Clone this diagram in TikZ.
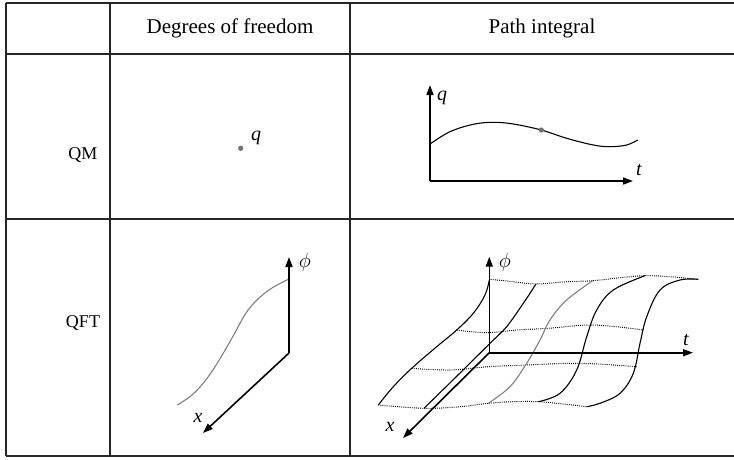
\documentclass[tikz,border=0pt]{standalone}
\usepackage{fontspec}
\setmainfont{Liberation Serif}
\usetikzlibrary{arrows.meta}
\begin{document}
\begin{tikzpicture}[x=1pt,y=-1pt,
  grid/.style={line width=1.2pt, draw=black!85},
  axis/.style={line width=1.6pt, -{Triangle[length=10pt,width=7pt]}},
  pathline/.style={line width=1.1pt},
  graypath/.style={line width=1.1pt, draw=black!50},
  dotline/.style={line width=1pt, dash pattern=on 0.9pt off 1.2pt},
  lab/.style={font=\fontsize{21}{25}\selectfont, inner sep=0pt},
  rlab/.style={font=\fontsize{18}{22}\selectfont, inner sep=0pt},
  mlab/.style={font=\fontsize{20}{24}\selectfont\itshape, inner sep=0pt},
  pt/.style={fill=black!55}
]
\useasboundingbox (0,0) rectangle (734,459);
\fill[white] (0,0) rectangle (734,459);

% table
\draw[grid] (6,3) -- (734,3);
\draw[grid] (6,54) -- (734,54);
\draw[grid] (6,219) -- (734,219);
\draw[grid] (6,456) -- (734,456);
\draw[grid] (6,3) -- (6,456);
\draw[grid] (110,3) -- (110,456);
\draw[grid] (350,3) -- (350,456);

\node[lab] (h1) at (230,28) {Degrees of freedom};
\node[lab] (h2) at (542,28) {Path integral};
\node[rlab] (qm) at (83,155) {QM};
\node[rlab] (qft) at (83,323) {QFT};

% QM degrees of freedom
\fill[pt] (240.7,148.3) circle (2.6);
\node[mlab] (qlab) at (256,138) {q};

% QM path integral
\coordinate (o1) at (430,181);
\coordinate (qtip) at (430,85);
\coordinate (ttip) at (633,181);
\draw[pathline] plot[smooth, tension=0.6] coordinates {(430,144) (450,131.7) (473.3,124.3) (493.3,122.3) (513.3,124) (541.3,130) (566.7,138.3) (593.3,145) (610,146.7) (626.7,145) (637.7,140)};
\fill[pt] (541.3,130) circle (2.6);
\draw[axis] (o1) -- (qtip);
\draw[axis] (o1) -- (ttip);
\node[mlab] (q2) at (442,98) {q};
\node[mlab] (t1) at (639,170) {t};

% QFT degrees of freedom
\coordinate (o2) at (289,353);
\coordinate (phitip) at (289,257);
\coordinate (xtip) at (203,433);
\draw[graypath] plot[smooth, tension=0.6] coordinates {(177.3,405) (192,395) (205,381) (218,362) (232,338) (246,313) (258,299) (272,288) (288.3,279.3)};
\draw[axis] (o2) -- (phitip);
\draw[axis] (o2) -- (xtip);
\node[font=\fontsize{20}{24}\selectfont, inner sep=0pt] (phi1) at (305,262) {$\phi$};
\node[mlab] (x1) at (198,418) {x};

% QFT path integral
\coordinate (o3) at (489.3,352.7);
\coordinate (phitip3) at (489.3,256.7);
\coordinate (ttip3) at (693,352.7);
\coordinate (xtip3) at (403,438);

% dotted rows
\draw[dotline] plot[smooth, tension=0.6] coordinates {(490.7,279.3) (513.3,281.7) (536,284) (566.7,281.7) (592.7,280.7) (620,277.7) (645,275.7) (670,276.7) (696.7,279.3)};
\draw[dotline] plot[smooth, tension=0.6] coordinates {(456.7,330) (486.7,332.7) (516.7,330) (548.3,328.3) (593.3,325) (643.3,330)};
\draw[dotline] plot[smooth, tension=0.6] coordinates {(411.7,368.3) (450,370) (488.3,366.7) (526.7,365) (580,363.3) (636.7,366.7)};
\draw[dotline] plot[smooth, tension=0.6] coordinates {(378.3,405) (424,408.3) (460,406.7) (488.3,403.3) (513.3,401.7) (538.3,401.7) (563.3,404) (586.7,406.7)};

% solid slices
\draw[pathline] plot[smooth, tension=0.6] coordinates {(378.3,405) (393.3,386.7) (411.7,368.3) (436.7,346.7) (456.7,330) (473.3,313.3) (485,295) (489.3,280)};
\draw[pathline] plot[smooth, tension=0.5] coordinates {(424,408.3) (458,375) (490,343.3) (506.7,326.7) (523.3,303.3) (536,284)};
\draw[graypath] plot[smooth, tension=0.6] coordinates {(488.3,403.3) (510,386.7) (526.7,363.3) (540,340) (550,320) (566.7,300) (592.7,280.7)};
\draw[pathline] plot[smooth, tension=0.6] coordinates {(538.3,401.7) (560,393.3) (576.7,370) (586.7,336.7) (596.7,310) (613.3,290) (645,275.7)};
\draw[pathline] plot[smooth, tension=0.6] coordinates {(586.7,406.7) (600,403.3) (620,393.3) (633.3,373.3) (640,343.3) (646.7,316.7) (660,290) (680,280) (698.3,279.3)};

\draw[axis] (o3) -- (phitip3);
\draw[axis] (o3) -- (ttip3);
\draw[axis] (o3) -- (xtip3);
\node[font=\fontsize{20}{24}\selectfont, inner sep=0pt] (phi2) at (505,262) {$\phi$};
\node[mlab] (t2) at (686,340) {t};
\node[mlab] (x2) at (390,427) {x};
\end{tikzpicture}
\end{document}
